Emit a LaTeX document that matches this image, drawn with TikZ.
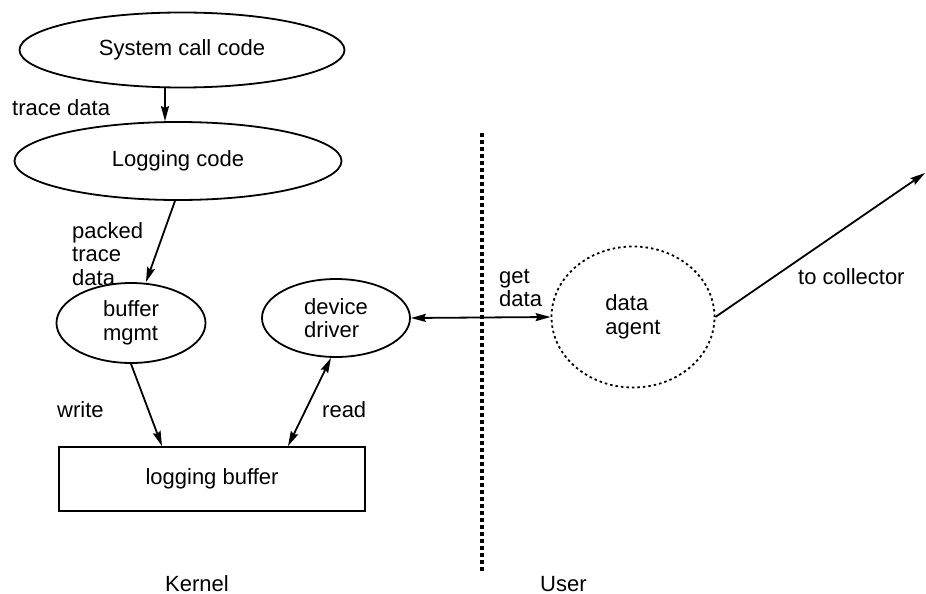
\documentclass[tikz,border=0pt]{standalone}
\usepackage{fontspec}
\setmainfont{Liberation Sans}
\usetikzlibrary{shapes.geometric,arrows.meta,calc}
\begin{document}
\begin{tikzpicture}[x=1pt,y=-1pt,
  every node/.style={font=\fontsize{22}{23.5}\selectfont, inner sep=0pt},
  ell/.style={draw, ellipse, line width=1.8pt},
  agentell/.style={draw, ellipse, line width=1.8pt, dash pattern=on 2.5pt off 3pt},
  boxnode/.style={draw, rectangle, line width=1.8pt},
  lbl/.style={align=left},
  arr/.style={line width=1.8pt, -{Stealth[length=15pt,width=8pt,inset=2pt]}},
  darr/.style={line width=1.8pt, {Stealth[length=15pt,width=8pt,inset=2pt]}-{Stealth[length=15pt,width=8pt,inset=2pt]}},
  divider/.style={line width=3.5pt, dash pattern=on 3.5pt off 3.5pt}
]
\useasboundingbox (0,0) rectangle (926,594);
\fill[white] (0,0) rectangle (926,594);

% nodes
\node[ell, minimum width=325pt, minimum height=75pt] (sys) at (182,50) {System call code};
\node[ell, minimum width=327pt, minimum height=78pt] (log) at (178,161) {Logging code};
\node[ell, minimum width=149pt, minimum height=80pt, align=left] (buf) at (131,323) {buffer\\mgmt};
\node[ell, minimum width=148pt, minimum height=78pt, align=left] (dev) at (336,318) {device\\driver};
\node[boxnode, minimum width=306pt, minimum height=64pt] (lbuf) at (212,479) {logging buffer};
\node[agentell, minimum width=163pt, minimum height=141pt, align=left] (agent) at (633,317) {data\\agent};
\coordinate (coll) at (925,173);
\coordinate (divtop) at (482,133);
\coordinate (divbot) at (482,571);

% labels
\node[lbl, anchor=west] (ltrace) at (12,108) {trace data};
\node[lbl, anchor=north west] (lpacked) at (72,222) {packed\\trace\\data};
\node[lbl, anchor=west] (lwrite) at (57,410) {write};
\node[lbl, anchor=west] (lread) at (322,410) {read};
\node[lbl, anchor=north west] (lget) at (499,269) {get\\data};
\node[lbl, anchor=west] (lcoll) at (798,277) {to collector};
\node[anchor=base west] (lkernel) at (165,591) {Kernel};
\node[anchor=base west] (luser) at (540,591) {User};

% divider
\draw[divider] (divtop) -- (divbot);

% connectors
\draw[arr] ([xshift=-17pt]sys.south) -- ([xshift=-17pt]sys.south |- log.north);
\draw[arr] ([xshift=-3pt]log.south) -- ([xshift=15pt]buf.north);
\draw[arr] (buf.south) -- ([xshift=-50pt]lbuf.north);
\draw[darr] ([xshift=-5pt]dev.south) -- ([xshift=76pt]lbuf.north);
\draw[darr] (dev.east) -- (agent.west);
\draw[arr] (agent.east) -- (coll);
\end{tikzpicture}
\end{document}
